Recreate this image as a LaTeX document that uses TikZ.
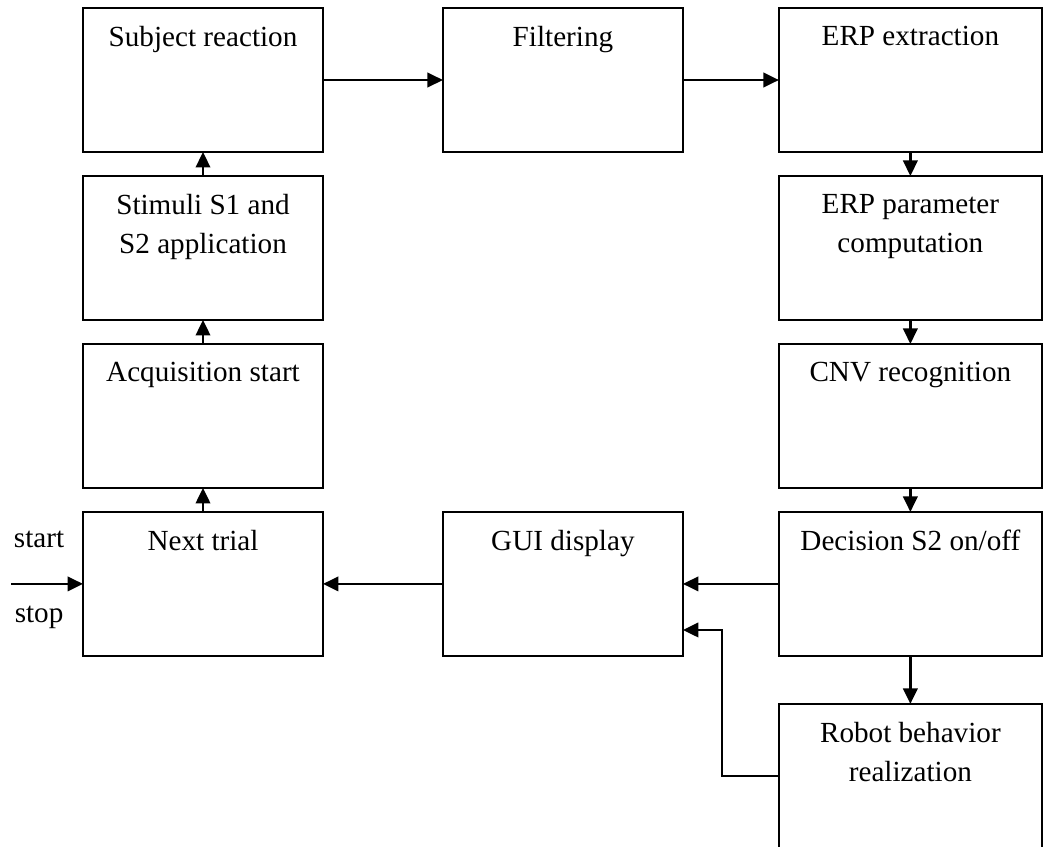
\documentclass[tikz,border=0pt]{standalone}
\usepackage{fontspec}
\setmainfont{Liberation Serif}
\usetikzlibrary{arrows.meta,positioning,calc}
\tikzset{
  blk/.style={draw=black,line width=1.1pt,minimum width=4.8cm,minimum height=2.88cm,inner sep=0pt,outer sep=0pt},
  wide/.style={minimum width=5.26cm},
  blktext/.style={anchor=north,yshift=-0.36cm,inner sep=0pt,align=center,font=\fontsize{16.6}{22.2}\selectfont},
  note/.style={inner sep=0pt,font=\fontsize{16.6}{22.2}\selectfont},
  arr/.style={-{Triangle[length=0.31cm,width=0.29cm]},line width=1.3pt}
}

\begin{document}
\begin{tikzpicture}[x=0.02cm,y=-0.02cm]
  \useasboundingbox (0,0) rectangle (1043,846);
  % left column, bottom to top flow
  \node[blk,label={[blktext]north:Subject reaction}] (subj) at (203,80) {};
  \node[blk,below=0.48cm of subj,label={[blktext]north:{Stimuli S1 and\\S2 application}}] (stim) {};
  \node[blk,below=0.48cm of stim,label={[blktext]north:Acquisition start}] (acq) {};
  \node[blk,below=0.48cm of acq,label={[blktext]north:Next trial}] (next) {};
  % middle column
  \node[blk,right=2.4cm of subj,label={[blktext]north:Filtering}] (filt) {};
  \node[blk,right=2.4cm of next,label={[blktext]north:GUI display}] (gui) {};
  % right column
  \node[blk,wide,right=1.92cm of filt,label={[blktext]north:ERP extraction}] (erp) {};
  \node[blk,wide,below=0.48cm of erp,label={[blktext]north:{ERP parameter\\computation}}] (param) {};
  \node[blk,wide,below=0.48cm of param,label={[blktext]north:CNV recognition}] (cnv) {};
  \node[blk,wide,below=0.48cm of cnv,label={[blktext]north:Decision S2 on/off}] (dec) {};
  \node[blk,wide,below=0.96cm of dec,label={[blktext]north:{Robot behavior\\realization}}] (robot) {};

  \coordinate (src) at ($(next.west)+(-72,0)$);
  \coordinate (guiin) at ($(gui.south east)!0.18!(gui.north east)$);

  \draw[arr] (src) -- node[note,pos=0.39,above=0.7cm] {start}
    node[note,pos=0.39,below=0.42cm] {stop} (next.west);
  \draw[arr] (next) -- (acq);
  \draw[arr] (acq) -- (stim);
  \draw[arr] (stim) -- (subj);
  \draw[arr] (subj) -- (filt);
  \draw[arr] (filt) -- (erp);
  \draw[arr] (erp) -- (param);
  \draw[arr] (param) -- (cnv);
  \draw[arr] (cnv) -- (dec);
  \draw[arr] (dec) -- (robot);
  \draw[arr] (dec) -- (gui);
  \draw[arr] (gui) -- (next);
  \draw[arr] (robot.west) -- ++(-57,0) |- (guiin);
\end{tikzpicture}
\end{document}
